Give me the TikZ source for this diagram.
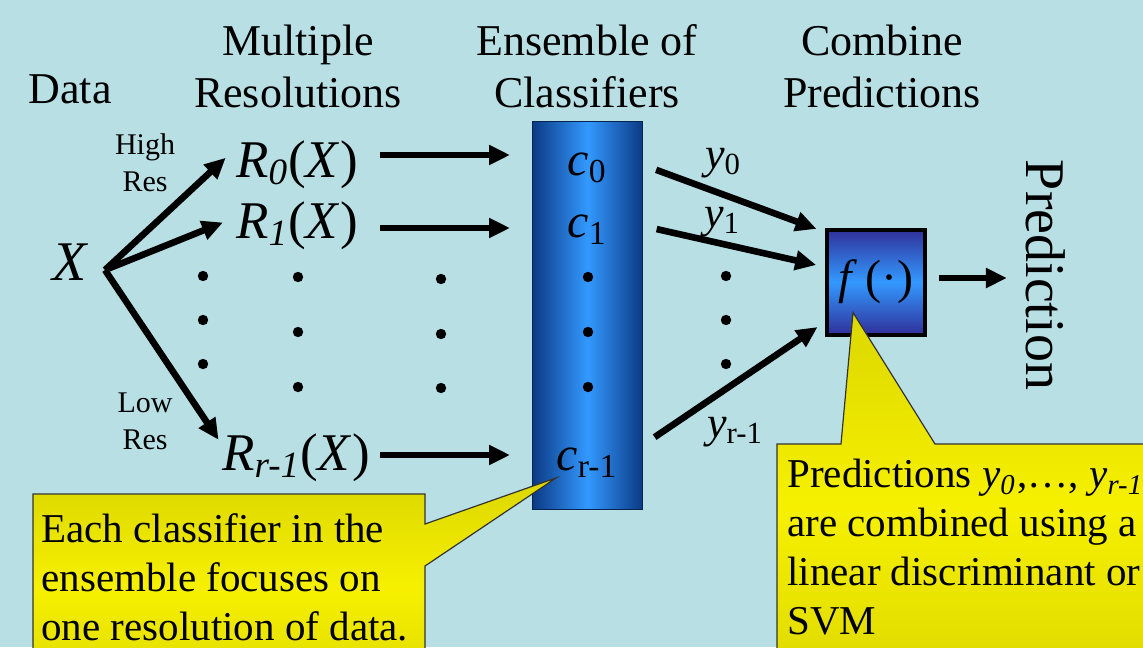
\documentclass[tikz,border=0pt]{standalone}
\usepackage{fontspec}
\setmainfont{Liberation Serif}
\usetikzlibrary{arrows.meta,positioning}
\definecolor{slideBg}{HTML}{B8E0E4}
\definecolor{barDark}{HTML}{0B3A85}
\definecolor{barLight}{HTML}{3399FF}
\definecolor{boxDark}{HTML}{30309A}
\definecolor{noteDark}{HTML}{DCD700}
\definecolor{noteLight}{HTML}{F6F000}

\begin{document}
\begin{tikzpicture}[x=0.5pt,y=-0.5pt,
  head/.style={align=center,font=\fontsize{22}{26}\selectfont,inner sep=0pt},
  lab/.style={font=\fontsize{24}{28}\selectfont,inner sep=0pt},
  rlab/.style={font=\fontsize{26.5}{30}\selectfont,inner sep=0pt,anchor=base},
  ylab/.style={font=\fontsize{22}{26}\selectfont,inner sep=0pt,anchor=base},
  reslab/.style={align=center,font=\fontsize{15}{18.5}\selectfont,inner sep=0pt},
  arr/.style={-{Triangle[length=10.5pt,width=9.5pt]},line width=3.3pt},
  blob/.style={fill=black},
  ensbar/.style={draw=barDark!60!black,line width=0.5pt,minimum width=55pt,minimum height=194pt,
    left color=barDark,right color=barDark,middle color=barLight},
  combbox/.style={draw=black,line width=2pt,minimum width=49pt,minimum height=52.5pt,
    top color=boxDark,bottom color=boxDark,middle color=barLight,font=\fontsize{24}{28}\selectfont,inner sep=0pt},
  callout/.style={draw=black!80,line width=0.6pt,top color=noteDark,bottom color=noteDark,middle color=noteLight},
  notetext/.style={align=left,font=\fontsize{20.5}{24.5}\selectfont,inner sep=0pt,anchor=north west}
]
  \clip (0,0) rectangle (1143,647);
  \fill[slideBg] (0,0) rectangle (1143,647);

  % column titles
  \node[head] (data) at (70,89) {Data};
  \node[head] (hres) at (298,66) {Multiple\\Resolutions};
  \node[head] (hens) at (587,66) {Ensemble of\\Classifiers};
  \node[head] (hcomb) at (882,66) {Combine\\Predictions};

  % data and resolutions
  \node[lab,font=\fontsize{28}{30}\selectfont] (x) at (71,262) {\textit{X}};
  \coordinate (fan) at (105,270);
  \node[reslab] (high) at (145,163) {High\\Res};
  \node[reslab] (low) at (145,421) {Low\\Res};
  \node[rlab] (r0) at (297,177) {\textit{R\textsubscript{0}}(\textit{X})};
  \node[rlab] (r1) at (297,238) {\textit{R\textsubscript{1}}(\textit{X})};
  \node[rlab] (rr) at (296,470) {\textit{R\textsubscript{r-1}}(\textit{X})};

  \draw[arr,shorten >=7pt] (fan) -- ([yshift=8pt]r0.west);
  \draw[arr,shorten >=7pt] (fan) -- ([yshift=4pt]r1.west);
  \draw[arr,shorten >=3pt] (fan) -- ([yshift=-6pt]rr.north west);

  % ensemble
  \node[ensbar] (col) at (587.5,315.5) {};
  \node[lab,anchor=base] (c0) at (587,175) {\textit{c}\textsubscript{0}};
  \node[lab,anchor=base] (c1) at (587,237) {\textit{c}\textsubscript{1}};
  \node[lab,anchor=base] (cr) at (587,470) {\textit{c}\textsubscript{r-1}};

  \foreach \r/\yy/\gap in {r0/155/11,r1/228/11,rr/455/5}
    \draw[arr,shorten <=\gap pt,shorten >=11pt] (\r.east |- 0,\yy) -- (col.west |- 0,\yy);

  % dots
  \foreach \x/\y in {203/276,203/320,203/364,298/277,298/332,298/387,441/279,441/334,441/388,
                     588/277,588/332,588/387,726/276,726/320,726/364}
    \fill[blob] (\x,\y) circle[radius=2.6pt];

  % combiner
  \node[combbox] (f) at (876,282) {\textit{f}\,(·)};
  \node[ylab] (y0) at (723,168) {\textit{y}\textsubscript{0}};
  \node[ylab] (y1) at (722,227) {\textit{y}\textsubscript{1}};
  \node[ylab] (yr) at (735,437) {\textit{y}\textsubscript{r-1}};
  \foreach \yy/\yf in {165/232,226/267,445/322}
    \draw[arr,shorten <=7pt,shorten >=4.5pt] (col.east |- 0,\yy) -- (f.west |- 0,\yf);

  \node[font=\fontsize{28}{30}\selectfont,inner sep=0pt,rotate=-90] (pred) at (1046,275) {Prediction};
  \draw[arr,shorten <=6pt,shorten >=9.5pt] ([yshift=2pt]f.east) -- ([yshift=2pt]f.east -| pred.south);

  % callouts
  \path[callout] (33,494) -- (425,494) -- (425,524) -- (cr.south west) -- (425,566)
    -- (425,700) -- (33,700) -- cycle;
  \node[notetext] (note1) at (41,513) {Each classifier in the\\ensemble focuses on\\one resolution of data.};
  \path[callout] (777,444) -- (841,444) -- ([xshift=14pt,yshift=12pt]f.south west) -- (935,444)
    -- (1160,444) -- (1160,700) -- (777,700) -- cycle;
  \node[notetext] (note2) at (787,459) {Predictions \textit{y\textsubscript{0}}\kern1pt,…, \textit{y\textsubscript{r-1}}\\are combined using a\\linear discriminant or\\SVM};
\end{tikzpicture}
\end{document}
